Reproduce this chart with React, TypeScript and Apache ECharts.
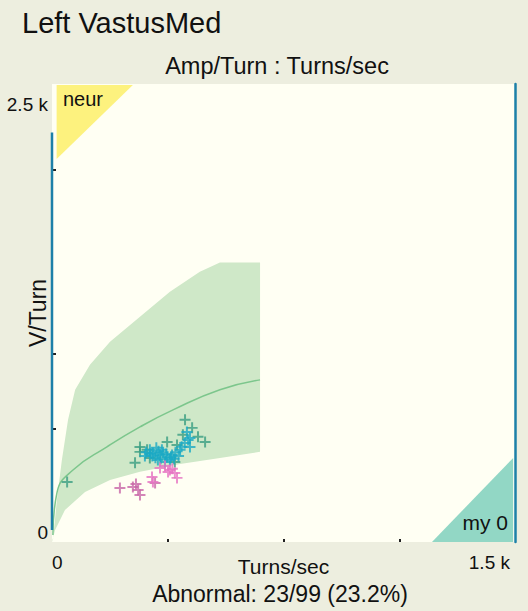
import React, { useEffect, useRef } from "react";
import * as echarts from "echarts";

// ---- data ----
const xTicks = [0, 375, 750, 1125, 1500];
const yLabelValues = [0, 2500];
const yTickValues = [620, 1030, 2030];

// normal region (green) boundary, [turns/sec, V/turn]
const normalRegion: number[][] = [
  [0, 0], [3, 11], [16, 230], [32, 448], [52, 667], [75, 831], [123, 967],
  [188, 1093], [285, 1230], [382, 1366], [479, 1475], [544, 1525], [674, 1525],
  [674, 492], [544, 459], [415, 426], [285, 383], [188, 339], [107, 273],
  [42, 175], [10, 66],
];
// mean curve
const meanCurve: number[][] = [
  [3, 38], [16, 268], [68, 393], [178, 519], [285, 628], [392, 721], [544, 831], [674, 885],
];
// neuropathic corner (yellow)
const neurRegion: number[][] = [[15, 2495], [262, 2495], [15, 2090]];
// myopathic corner (teal)
const myoRegion: number[][] = [[1231, 0], [1494, 0], [1494, 459]];

// measured MUPs
const normalGreen: number[][] = [
  [431, 667], [454, 623], [373, 546], [405, 530], [496, 546], [285, 519], [285, 492],
  [308, 503], [269, 432], [317, 459], [398, 437], [49, 328], [473, 574], [424, 585],
];
const normalCyan: number[][] = [
  [441, 557], [447, 519], [327, 486], [350, 475], [373, 464], [389, 475], [415, 503],
  [366, 437], [343, 448], [301, 470], [317, 503], [356, 503], [382, 448], [437, 601],
  [447, 568], [335, 460], [360, 490], [395, 455], [420, 520], [338, 515],
  [305, 490], [325, 470], [345, 495], [370, 480], [385, 460], [400, 490], [430, 540],
  [352, 455], [318, 480], [410, 470],
];
const abnormalPink: number[][] = [
  [382, 393], [398, 377], [350, 404], [366, 415], [324, 355], [327, 328], [405, 350], [376, 382],
  [390, 400],
];
const abnormalMauve: number[][] = [
  [220, 295], [262, 300], [279, 284], [285, 257], [272, 317], [334, 322],
];
const leftAxisLine: number[][] = [[0, 2235], [0, 66]];

const plus = "path://M4.1,0h1.8v4.1h4.1v1.8h-4.1v4.1h-1.8v-4.1h-4.1v-1.8h4.1z";
const FONT = "Liberation Sans";

function polygonSeries(points: number[][], color: string, z: number) {
  return {
    type: "custom",
    silent: true,
    z,
    data: [[0, 0]],
    renderItem: (_p: any, api: any) => ({
      type: "polygon",
      shape: { points: points.map((p) => api.coord(p)) },
      style: { fill: color },
    }),
  };
}

export default function App() {
  const ref = useRef<HTMLDivElement>(null);
  useEffect(() => {
    document.body.style.margin = "0";
    const chart = echarts.init(ref.current!, null, { renderer: "svg" });
    chart.setOption({
      animation: false,
      backgroundColor: "#edeedf",
      textStyle: { fontFamily: FONT },
      title: [
        { text: "Left VastusMed", left: 17, top: 3, textStyle: { fontSize: 29, fontWeight: "normal", color: "#111", fontFamily: FONT } },
        { text: "Amp/Turn : Turns/sec", left: 272, textAlign: "center", top: 49, textStyle: { fontSize: 23.5, fontWeight: "normal", color: "#111", fontFamily: FONT } },
        { text: "Abnormal: 23/99 (23.2%)", left: 275, textAlign: "center", top: 577, textStyle: { fontSize: 23, fontWeight: "normal", color: "#111", fontFamily: FONT } },
      ],
      grid: { left: 52, right: 13, top: 84, bottom: 69, show: true, backgroundColor: "#fffff3", borderWidth: 0, outerBoundsMode: "none", containLabel: false },
      xAxis: {
        type: "value", min: 0, max: 1500, interval: 375,
        name: "Turns/sec", nameLocation: "middle", nameGap: 14, nameMoveOverlap: false,
        nameTextStyle: { fontSize: 21, color: "#111", fontFamily: FONT },
        axisLine: { show: false },
        axisTick: { show: true, length: 3, inside: true, lineStyle: { color: "#222", width: 2 }, customValues: [375, 750, 1125] },
        splitLine: { show: false },
        axisLabel: {
          customValues: [xTicks[0], xTicks[4]],
          formatter: (v: number) => (v === 0 ? "0" : "{r|" + (v / 1000).toFixed(1) + " k}"),
          rich: { r: { fontSize: 19, color: "#111", padding: [0, 5, 0, 0], fontFamily: FONT } },
          fontSize: 19, color: "#111", margin: 11, fontFamily: FONT,
          alignMinLabel: "left", alignMaxLabel: "right",
        },
      },
      yAxis: [
        {
          type: "value", min: 0, max: 2500,
          name: "V/Turn", nameLocation: "middle", nameGap: 3, nameRotate: 90, nameMoveOverlap: false,
          nameTextStyle: { fontSize: 23, color: "#111", fontFamily: FONT },
          axisLine: { show: false },
          axisTick: { show: true, length: 4, inside: true, lineStyle: { color: "#222", width: 2 }, customValues: yTickValues },
          splitLine: { show: false },
          axisLabel: {
            customValues: yLabelValues,
            formatter: (v: number) => (v === 0 ? "0" : "{m|" + (v / 1000).toFixed(1) + " k}"),
            rich: { m: { fontSize: 19, color: "#111", padding: [11, 0, 0, 0], fontFamily: FONT } },
            fontSize: 19, color: "#111", margin: 4, fontFamily: FONT,
            verticalAlignMinLabel: "bottom", verticalAlignMaxLabel: "top",
          },
        },
        {
          type: "value", min: 0, max: 2500, position: "right",
          axisLine: { show: true, lineStyle: { color: "#1d80a8", width: 2.5 } },
          axisTick: { show: false }, axisLabel: { show: false }, splitLine: { show: false },
        },
      ],
      graphic: [
        { type: "text", left: 63, top: 89, z: 10, style: { text: "neur", fontSize: 20, fill: "#111", fontFamily: FONT } },
        { type: "text", right: 20, top: 512, z: 10, style: { text: "my 0", fontSize: 21, fill: "#111", fontFamily: FONT } },
      ],
      series: [
        polygonSeries(normalRegion, "#cfe8c8", 1),
        polygonSeries(neurRegion, "#fdf27e", 1),
        polygonSeries(myoRegion, "#92d7c5", 1),
        {
          type: "line", data: meanCurve, smooth: true, showSymbol: false, z: 2, silent: true,
          lineStyle: { color: "#7cc68c", width: 1.5 },
        },
        {
          type: "line", data: leftAxisLine, showSymbol: false, z: 3, clip: false, silent: true,
          lineStyle: { color: "#1d80a8", width: 2.5 },
        },
        { type: "scatter", data: normalGreen, symbol: plus, symbolSize: 11, z: 4, itemStyle: { color: "#3a9e82" } },
        { type: "scatter", data: normalCyan, symbol: plus, symbolSize: 11, z: 5, itemStyle: { color: "#1aa9c4" } },
        { type: "scatter", data: abnormalMauve, symbol: plus, symbolSize: 11, z: 5, itemStyle: { color: "#c867a8" } },
        { type: "scatter", data: abnormalPink, symbol: plus, symbolSize: 11, z: 6, itemStyle: { color: "#e673c2" } },
      ],
    });
    return () => chart.dispose();
  }, []);
  return <div ref={ref} style={{ position: "absolute", left: 0, top: 0, width: 528, height: 611 }} />;
}
